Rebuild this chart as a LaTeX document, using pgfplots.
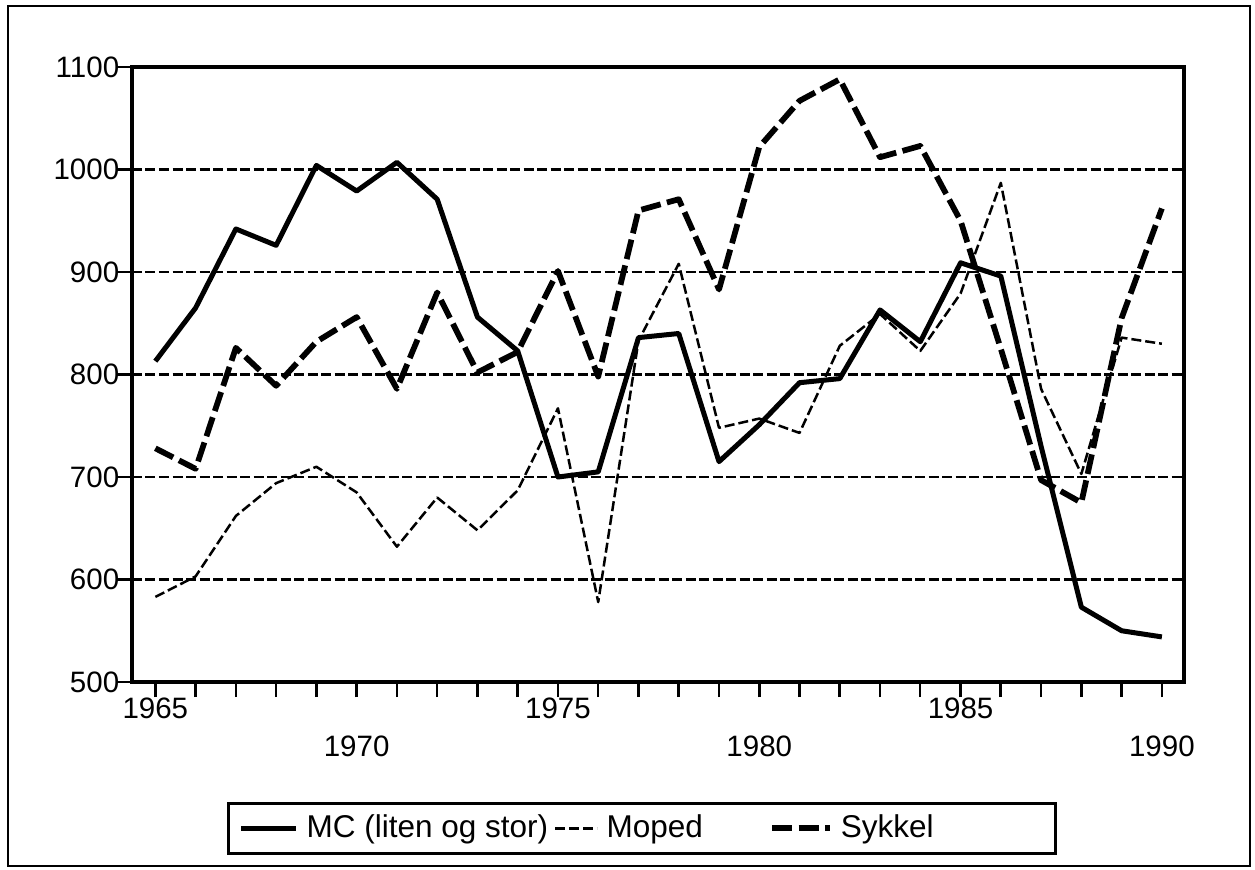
\documentclass[border=0pt]{standalone}
\usepackage{fontspec}
\setmainfont{Liberation Sans}
\usepackage{pgfplots}
\pgfplotsset{compat=1.18}
\pgfplotsset{legline/.style={legend image code/.code={\draw[##1] (0pt,0pt) -- (#1,0pt);}}}

% 1 px of the reference = 0.4pt
\begin{document}
\begin{tikzpicture}
\begin{axis}[
    scale only axis,
    width=420.8pt, height=246pt,
    xmin=1964.42, xmax=1990.55,
    ymin=500, ymax=1100,
    axis line style={line width=1.3pt},
    tick pos=left, tick align=outside,
    major tick length=6pt, minor tick length=6pt,
    tick style={black, line width=1pt},
    xtick={1965,1975,1985},
    minor xtick={1965,...,1990},
    extra x ticks={1970,1980,1990},
    xticklabel style={yshift=3.2pt},
    extra x tick style={xmajorgrids=false, xticklabel style={yshift=-15.2pt}},
    yticklabel style={xshift=4.4pt},
    ytick={500,600,...,1100},
    ymajorgrids,
    grid style={black, line width=1pt, dash pattern=on 4pt off 1.4pt},
    /pgf/number format/1000 sep={},
    /pgf/number format/assume math mode=true,
    tick label style={font=\fontsize{11.8}{14}\selectfont},
    legend columns=3,
    legend style={at={(0.0903,-0.195)}, anchor=north west,
      draw=black, line width=1.3pt, inner xsep=4pt, inner ysep=4.6pt,
      font=\fontsize{12.6}{15}\selectfont,
      nodes={inner sep=0pt},
      /tikz/every odd column/.append style={column sep=3.2pt}},
  ]
  % MC (liten og stor)
  \addplot[black, line width=2pt, line join=round, legline=22pt]
    coordinates {
    (1965,813)(1966,865)(1967,942)(1968,926)(1969,1004)(1970,979)
    (1971,1007)(1972,971)(1973,856)(1974,823)(1975,700)(1976,705)
    (1977,836)(1978,840)(1979,715)(1980,751)(1981,792)(1982,796)
    (1983,863)(1984,832)(1985,909)(1986,896)(1987,730)(1988,573)
    (1989,550)(1990,544)};
  \addlegendentry{\makebox[99pt][l]{MC (liten og stor)}}
  % Moped
  \addplot[black, line width=1pt, line join=round, dash pattern=on 4pt off 1.6pt, legline=16.8pt]
    coordinates {
    (1965,583)(1966,603)(1967,662)(1968,694)(1969,710)(1970,685)
    (1971,632)(1972,680)(1973,648)(1974,687)(1975,767)(1976,578)
    (1977,833)(1978,908)(1979,748)(1980,757)(1981,743)(1982,828)
    (1983,859)(1984,823)(1985,879)(1986,987)(1987,786)(1988,703)
    (1989,836)(1990,830)};
  \addlegendentry{\makebox[65pt][l]{Moped}}
  % Sykkel
  \addplot[black, line width=2.3pt, line join=round, dash pattern=on 8pt off 2.6pt, legline=23.2pt]
    coordinates {
    (1965,728)(1966,708)(1967,826)(1968,789)(1969,832)(1970,856)
    (1971,786)(1972,880)(1973,802)(1974,822)(1975,901)(1976,798)
    (1977,960)(1978,971)(1979,883)(1980,1022)(1981,1067)(1982,1088)
    (1983,1012)(1984,1023)(1985,950)(1986,825)(1987,697)(1988,675)
    (1989,855)(1990,962)};
  \addlegendentry{\makebox[81.8pt][l]{Sykkel}}
\end{axis}
\draw[line width=1pt] (-49.6pt,-73.6pt) rectangle (447.2pt,270.4pt);
\pgfresetboundingbox
\useasboundingbox (-52.8pt,-74.8pt) rectangle (449.2pt,272.8pt);
\end{tikzpicture}
\end{document}
